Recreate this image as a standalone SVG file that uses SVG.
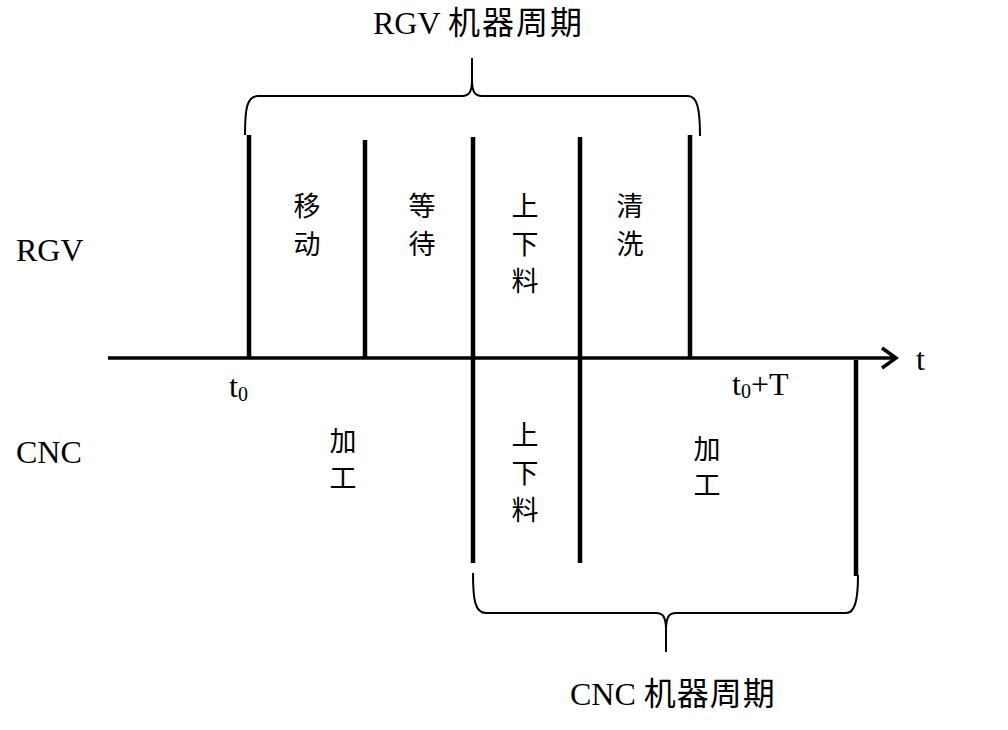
<svg xmlns="http://www.w3.org/2000/svg" width="1008" height="730" viewBox="0 0 1008 730">
<style>
.lat{font-family:"Liberation Serif","Noto Sans CJK SC",serif;fill:#000}
.cjk{font-family:"Noto Sans CJK SC","Liberation Serif",serif;font-size:27px;fill:#000;text-anchor:middle}
.big{font-size:32px}
.bar{stroke:#000;stroke-width:4.5;fill:none}
.brace{stroke:#000;stroke-width:2;fill:none}
</style>
<rect width="1008" height="730" fill="#fff"/>
<g id="connectors">
<line id="axis" x1="108" y1="358" x2="896" y2="358" stroke="#000" stroke-width="3.5"/>
<polyline points="882,348 896,358 882,368" fill="none" stroke="#000" stroke-width="3.5"/>
<line class="bar" x1="249" y1="135" x2="249" y2="358"/>
<line class="bar" x1="365" y1="140" x2="365" y2="358"/>
<line class="bar" x1="473" y1="137" x2="473" y2="563"/>
<line class="bar" x1="580" y1="137" x2="580" y2="563"/>
<line class="bar" x1="690" y1="135" x2="690" y2="358"/>
<line class="bar" x1="856" y1="360" x2="856" y2="576"/>
<path class="brace" d="M245,135 C245,108 247,96 258,96 H462 C469,96 472,92 472,80 V58 M472,80 C472,92 475,96 482,96 H688 C697,96 700,108 700,136"/>
<path class="brace" d="M473,573 C473,600 475,613 486,613 H656 C663,613 666,617 666,630 V652 M666,630 C666,617 669,613 676,613 H846 C855,613 858,600 858,575"/>
</g>
<g id="title-rgv"><text class="lat big" x="373" y="34">RGV <tspan letter-spacing="2">机器周期</tspan></text></g>
<g id="title-cnc"><text class="lat big" x="570" y="705">CNC <tspan letter-spacing="1">机器周期</tspan></text></g>
<g id="label-rgv"><text class="lat big" x="16" y="261">RGV</text></g>
<g id="label-cnc"><text class="lat big" x="16" y="463">CNC</text></g>
<g id="label-t"><text class="lat big" x="916" y="370">t</text></g>
<g id="label-t0"><text class="lat big" x="229" y="397">t<tspan font-size="20" dy="4">0</tspan></text></g>
<g id="label-t0T"><text class="lat big" x="732" y="395">t<tspan font-size="20" dy="3">0</tspan><tspan dy="-3">+T</tspan></text></g>
<g id="rgv-move"><text class="cjk" x="307" y="216">移</text><text class="cjk" x="307" y="254">动</text></g>
<g id="rgv-wait"><text class="cjk" x="422" y="216">等</text><text class="cjk" x="422" y="254">待</text></g>
<g id="rgv-load"><text class="cjk" x="525" y="216">上</text><text class="cjk" x="525" y="254">下</text><text class="cjk" x="525" y="291">料</text></g>
<g id="rgv-clean"><text class="cjk" x="630" y="216">清</text><text class="cjk" x="630" y="254">洗</text></g>
<g id="cnc-proc1"><text class="cjk" x="343" y="451">加</text><text class="cjk" x="343" y="488">工</text></g>
<g id="cnc-load"><text class="cjk" x="525" y="445">上</text><text class="cjk" x="525" y="483">下</text><text class="cjk" x="525" y="520">料</text></g>
<g id="cnc-proc2"><text class="cjk" x="707" y="459">加</text><text class="cjk" x="707" y="495">工</text></g>
</svg>
